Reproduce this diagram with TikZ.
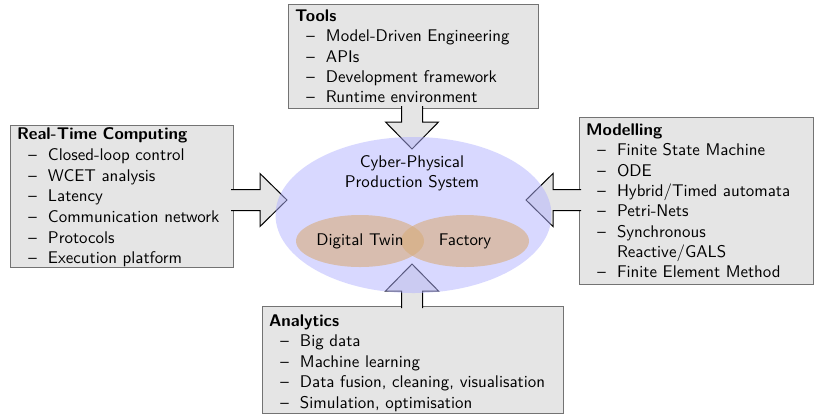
\documentclass[tikz,border=0pt]{standalone}
\usepackage{fontspec}
\usetikzlibrary{shapes.geometric,calc}
\definecolor{tanfill}{RGB}{216,172,122}
\newcommand{\litem}[1]{\\\makebox[18.6pt][l]{\hspace{6.8pt}--}#1}
\newcommand{\lcont}[1]{\\\makebox[18.6pt][l]{}#1}
\newcommand{\blockarrow}[2]{%
  \coordinate (hb) at ($(#2)!16.2pt!(#1)$);
  \filldraw[barrow] ($(#1)!6.3pt!90:(#2)$) -- ($(hb)!6.3pt!90:(#2)$) -- ($(hb)!15.9pt!90:(#2)$) -- (#2) -- ($(hb)!15.9pt!-90:(#2)$) -- ($(hb)!6.3pt!-90:(#2)$) -- ($(#1)!6.3pt!-90:(#2)$);}
\begin{document}
\begin{tikzpicture}[x=0.6pt,y=-0.6pt,
  every node/.style={font=\sffamily\fontsize{10.15}{12.2}\selectfont},
  box/.style={draw=black!55, line width=0.6pt, fill=gray!20, anchor=north west, align=left, inner xsep=3.9pt, inner ysep=0pt},
  barrow/.style={draw=black, line width=0.6pt, fill=gray!20, line join=miter},
  cpps/.style={ellipse, draw=none, fill=blue!30, fill opacity=0.5, inner sep=0pt},
  part/.style={ellipse, draw=none, fill=tanfill, fill opacity=0.6, inner sep=0pt, minimum width=76.8pt, minimum height=31.2pt}]
\useasboundingbox (0,0) rectangle (817,418);
% boxes
\node[box, minimum width=150pt, minimum height=62.4pt, text width=142.2pt] (tools) at (288,4)
  {\textbf{Tools}\litem{Model-Driven Engineering}\litem{APIs}\litem{Development framework}\litem{Runtime environment}};
\node[box, minimum width=133.8pt, minimum height=85.2pt, text width=126pt, font=\sffamily\fontsize{10.15}{12.4}\selectfont] (rt) at (10,125)
  {\rule{0pt}{8.5pt}\textbf{Real-Time Computing}\litem{Closed-loop control}\litem{WCET analysis}\litem{Latency}\litem{Communication network}\litem{Protocols}\litem{Execution platform}};
\node[box, minimum width=140.4pt, minimum height=100.2pt, text width=132.6pt] (model) at (579,117)
  {\textbf{Modelling}\litem{Finite State Machine}\litem{ODE}\litem{Hybrid/Timed automata}\litem{Petri-Nets}\litem{Synchronous}\lcont{Reactive/GALS}\litem{Finite Element Method}};
\node[box, minimum width=180.6pt, minimum height=64.2pt, text width=172.8pt, font=\sffamily\fontsize{10.15}{12.3}\selectfont] (ana) at (262,306)
  {\rule{0pt}{10.6pt}\textbf{Analytics}\litem{Big data}\litem{Machine learning}\litem{Data fusion, cleaning, visualisation}\litem{Simulation, optimisation}};
% arrow end points
\coordinate (ttail) at (412,106);
\coordinate (ttip) at (412,149);
\coordinate (rtail) at (231,200);
\coordinate (rtip) at (287,200);
\coordinate (mtail) at (581,200);
\coordinate (mtip) at (526,200);
\coordinate (atail) at (412,308);
\coordinate (atip) at (412,264);
\blockarrow{ttail}{ttip}
\blockarrow{rtail}{rtip}
\blockarrow{mtail}{mtip}
\blockarrow{atail}{atip}
% system
\node[cpps, minimum width=165.6pt, minimum height=93.6pt] (sys) at (413.5,215) {};
\node[part] (dt) at (360,241) {};
\node[part] (fac) at (465,241) {};
\node (dtlabel) at (dt.center) {Digital Twin};
\node (faclabel) at (fac.center) {Factory};
\node[align=center] (syslabel) at (412,173) {Cyber-Physical\\Production System};
\end{tikzpicture}
\end{document}
